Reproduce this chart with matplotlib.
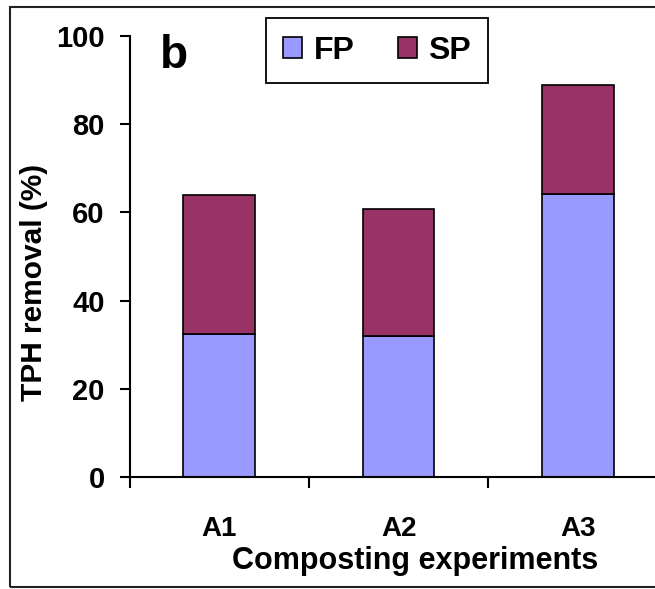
import matplotlib
matplotlib.use('Agg')
import matplotlib.pyplot as plt
from matplotlib.patches import Rectangle
import numpy as np

plt.rcParams['font.family'] = ['Liberation Sans', 'DejaVu Sans']
plt.rcParams['font.weight'] = 'bold'

# data
experiments = ['A1', 'A2', 'A3']
fp = [32.4, 32.0, 64.1]
sp = [31.6, 28.7, 24.9]
yticks = [0, 20, 40, 60, 80, 100]

fp_color = '#9999FF'
sp_color = '#993366'

W, H = 655, 589
fig = plt.figure(figsize=(W / 100, H / 100), dpi=100)
# axes spans past the right edge, like the cropped original
ax = fig.add_axes([129.7 / W, 1 - 477 / H, 537.8 / W, 441 / H])

x = np.arange(len(experiments))
ax.bar(x, fp, width=0.40, color=fp_color, edgecolor='black', linewidth=1.2, label='FP')
ax.bar(x, sp, width=0.40, bottom=fp, color=sp_color, edgecolor='black', linewidth=1.2, label='SP')

ax.set_xlim(-0.5, 2.5)
ax.set_ylim(0, 100)
ax.set_yticks(yticks)
ax.set_yticklabels([str(v) for v in yticks], fontsize=21, fontweight='bold')
ax.tick_params(axis='y', direction='out', length=7, width=1.5, pad=11)

ax.set_xticks(x)
ax.set_xticklabels(experiments, fontsize=20, fontweight='bold')
ax.set_xticks([-0.5, 0.5, 1.5, 2.5], minor=True)
ax.tick_params(axis='x', which='major', length=0, pad=28)
ax.tick_params(axis='x', which='minor', direction='out', length=8, width=1.5)

for s in ['top', 'right']:
    ax.spines[s].set_visible(False)
for s in ['left', 'bottom']:
    ax.spines[s].set_linewidth(1.5)

fig.text(34 / W, 1 - 282 / H, 'TPH removal (%)', rotation=90, ha='center', va='center',
         fontsize=21.5, fontweight='bold')
fig.text(415 / W, 1 - 569 / H, 'Composting experiments', ha='center', va='baseline',
         fontsize=22, fontweight='bold')
fig.text(160 / W, 1 - 68.3 / H, 'b', ha='left', va='baseline', fontsize=33, fontweight='bold')

leg = ax.legend(loc='upper left', bbox_to_anchor=(265.7 / W, 1 - 18.3 / H),
                bbox_transform=fig.transFigure, ncol=2, frameon=True,
                fancybox=False, borderpad=0.55, borderaxespad=0, handlelength=0.6,
                handleheight=0.65, handletextpad=0.35, columnspacing=1.35,
                prop={'weight': 'bold', 'size': 23})
leg.get_frame().set_edgecolor('black')
leg.get_frame().set_linewidth(1.3)
leg.get_frame().set_alpha(1)

# outer border of the original figure
fig.patches.append(Rectangle((10 / W, 1 - 587 / H), 1.0, (587 - 7.3) / H,
                             transform=fig.transFigure, fill=False,
                             edgecolor='#222222', linewidth=1.5))

fig.savefig('out.png', dpi=100)
